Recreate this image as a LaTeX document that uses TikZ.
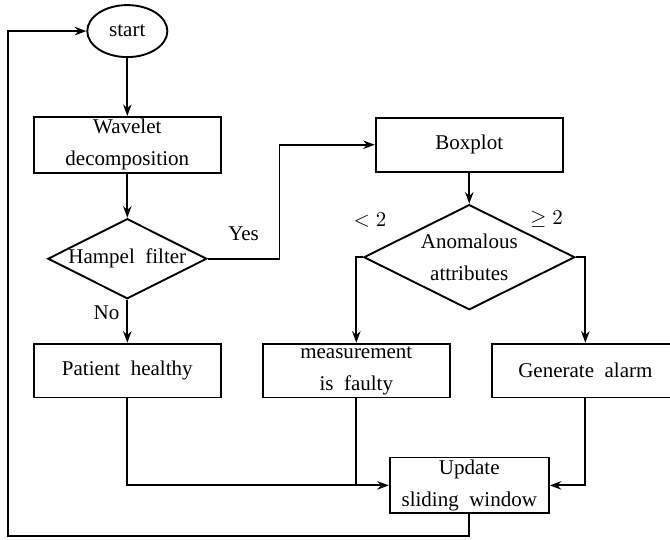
\documentclass[tikz,border=0pt]{standalone}
\usepackage[no-math]{fontspec}
\setmainfont{Liberation Serif}[WordSpace=2]
\usetikzlibrary{positioning, shapes.geometric, arrows.meta}

\begin{document}
\begin{tikzpicture}[
        >={Stealth[length=5.5pt, width=4pt]},
        line width=0.9pt,
        node distance=0.7cm,
        every node/.style={font=\fontsize{10}{15.4}\selectfont},
        box/.style={rectangle, draw, minimum width=3.13cm, minimum height=0.9cm, inner sep=1pt, align=center},
        decision/.style={diamond, draw, aspect=2, inner sep=0pt, align=center},
        terminal/.style={ellipse, draw, minimum width=1.34cm, minimum height=0.87cm, inner sep=0pt},
    ]
        \useasboundingbox (0,0) rectangle (11.21,-9.02);

        \node[terminal] (start) at (2.13,-0.52) {start};
        \node[box, below=0.97cm of start] (wavelet) {Wavelet\\decomposition};
        \node[decision, minimum width=2.66cm, minimum height=1.34cm, below=0.74cm of wavelet] (hampel) {Hampel filter};
        \node[box, below=0.72cm of hampel] (healthy) {Patient healthy};
        \node[box, right=2.56cm of wavelet] (boxplot) {Boxplot};
        \node[decision, minimum width=3.53cm, minimum height=1.76cm, below=0.52cm of boxplot] (anomalous) {Anomalous\\attributes};
        \node[box, right=0.67cm of healthy] (faulty) {measurement\\is faulty};
        \node[box, right=0.67cm of faulty] (alarm) {Generate alarm};
        \node[box, minimum width=2.66cm, below=2.44cm of anomalous] (update) {Update\\sliding window};
        \node at ([shift={(0.12,0.62)}]anomalous.west) (less) {$<2$};
        \node at ([shift={(-0.49,0.64)}]anomalous.east) (geq) {$\geq 2$};
        \coordinate (back) at (0.13,-8.97);

        \draw[->] (start) -- (wavelet);
        \draw[->] (wavelet) -- (hampel);
        \draw[->] (hampel.east) -- node[above=5pt] {Yes} ++(1.2,0) |- (boxplot);
        \draw[->] (hampel) -- node[left, pos=0.3] {No} (healthy);
        \draw[->] (boxplot) -- (anomalous);
        \draw[->] (anomalous) -| (faulty);
        \draw[->] (anomalous) -| (alarm);
        \draw[->] (healthy) |- (update);
        \draw (faulty) -- (faulty |- update);
        \draw[->] (alarm) |- (update);
        \draw[->] (update) |- (back) |- (start);
    \end{tikzpicture}
\end{document}
